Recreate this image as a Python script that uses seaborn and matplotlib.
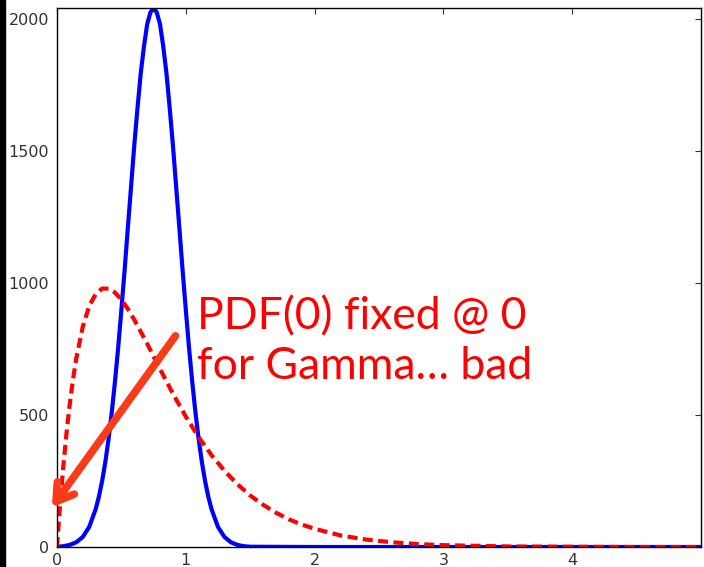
import numpy as np
import pandas as pd
import matplotlib
matplotlib.use('Agg')
import matplotlib.pyplot as plt
from matplotlib.patches import Rectangle
import seaborn as sns

# values (scaled pdf curves)
normal_x = [0.00, 0.05, 0.10, 0.15, 0.20, 0.25, 0.30, 0.325, 0.35, 0.375,
            0.40, 0.425, 0.45, 0.475, 0.50, 0.525, 0.55, 0.575, 0.60, 0.625,
            0.65, 0.675, 0.70, 0.725, 0.75, 0.775, 0.80, 0.825, 0.85, 0.875,
            0.90, 0.925, 0.95, 0.975, 1.00, 1.025, 1.05, 1.075, 1.10, 1.125,
            1.15, 1.175, 1.20, 1.25, 1.30, 1.35, 1.40, 1.45, 1.50, 2.00,
            3.00, 4.00, 5.00]
normal_y = [1, 3, 8, 18, 38, 76, 143, 190, 249, 321,
            408, 509, 626, 755, 899, 1049, 1209, 1365, 1522, 1663,
            1794, 1896, 1980, 2025, 2042, 2025, 1980, 1896, 1794, 1663,
            1522, 1365, 1209, 1049, 899, 755, 626, 509, 408, 321,
            249, 190, 143, 76, 38, 18, 8, 3, 1, 0,
            0, 0, 0]

gamma_x = [0.00, 0.01, 0.02, 0.03, 0.05, 0.075, 0.10, 0.125, 0.15, 0.20,
           0.25, 0.30, 0.35, 0.40, 0.45, 0.50, 0.55, 0.60, 0.70, 0.80,
           0.90, 1.00, 1.10, 1.20, 1.30, 1.40, 1.50, 1.60, 1.70, 1.80,
           1.90, 2.00, 2.20, 2.40, 2.60, 2.80, 3.00, 3.50, 4.00, 4.50,
           5.00]
gamma_y = [0, 69, 135, 197, 311, 437, 545, 637, 715, 834,
           913, 958, 979, 979, 964, 937, 902, 861, 770, 674,
           581, 494, 416, 348, 289, 238, 195, 160, 130, 105,
           85, 69, 44, 28, 18, 11, 7, 2, 1, 0,
           0]

note_lines = ['PDF(0) fixed @ 0', 'for Gamma\u2026 bad']

sns.set_style('white')
plt.rcParams['font.family'] = ['DejaVu Sans']

fig = plt.figure(figsize=(7.04, 5.67), dpi=100)
ax = fig.add_axes([57/704, 20/567, 644/704, 539/567])

sns.lineplot(x=normal_x, y=normal_y, color='#0000ff', lw=3, ax=ax)
sns.lineplot(x=gamma_x, y=gamma_y, color='#ff0000', lw=3, ax=ax)
ax.lines[-1].set_dashes((2.4, 1.3))

ax.set_xlim(0, 5)
ax.set_ylim(0, max(normal_y))
ax.set_xticks([0, 1, 2, 3, 4])
ax.set_yticks([0, 500, 1000, 1500, 2000])
ax.tick_params(direction='in', top=True, right=True, length=4.5,
               width=0.8, colors='#333333', labelsize=11.5)
ax.tick_params(axis='y', pad=5.5)
ax.tick_params(axis='x', pad=4)
for s in ax.spines.values():
    s.set_color('black')
    s.set_linewidth(1)

# annotation
ax.annotate('', xy=(-0.04, 150), xytext=(0.92, 800),
            arrowprops=dict(arrowstyle='->, head_length=1.2, head_width=0.75',
                            color='#fb3a17', lw=5.5, shrinkA=0, shrinkB=0),
            annotation_clip=False)
ax.text(1.085, 826, note_lines[0], color='#ff0000', fontsize=32,
        family=['Lato', 'DejaVu Sans'], ha='left', va='baseline')
ax.text(1.085, 636, note_lines[1], color='#ff0000', fontsize=32,
        family=['Lato', 'DejaVu Sans'], ha='left', va='baseline')

# dark screenshot border on the left
fig.patches.append(Rectangle((0, 0), 5/704, 1, transform=fig.transFigure,
                             color='black', zorder=10))

fig.savefig('out.png', dpi=100)
